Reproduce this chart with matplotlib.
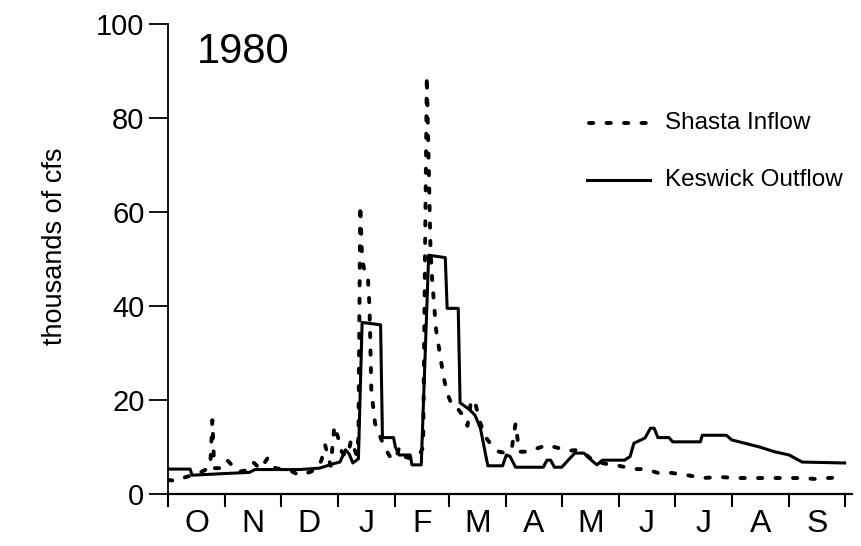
import numpy as np
import matplotlib.pyplot as plt

plt.rcParams['font.family'] = ['Liberation Sans', 'DejaVu Sans']

# water year 1980, days since Oct 1 1979
month_starts = [0, 31, 61, 92, 123, 152, 183, 213, 244, 274, 305, 336, 366]
month_labels = ['O', 'N', 'D', 'J', 'F', 'M', 'A', 'M', 'J', 'J', 'A', 'S']

# Shasta inflow (thousands of cfs)
inflow_day = [0, 4, 8, 13, 17, 22, 23, 24, 25, 29, 32, 38, 42, 46, 50, 54, 58, 66,
              71, 77, 81, 83, 85, 88, 90, 92, 94, 96, 98, 99, 102, 103, 104, 105,
              106, 108, 109, 110, 112, 114, 117, 120, 123, 125, 128, 132, 136, 138,
              140, 142, 143, 145, 147, 149, 151, 154, 157, 159, 162, 164, 166, 169,
              172, 175, 179, 183, 186, 188, 190, 195, 198, 205, 211, 217, 222, 225,
              231, 236, 240, 244, 252, 258, 265, 272, 281, 289, 299, 308, 316, 323,
              334, 342, 350, 357, 366]
inflow_val = [3.0, 2.8, 3.4, 4.0, 4.5, 5.5, 7.0, 15.7, 5.5, 5.5, 7.2, 4.7, 5.0, 6.8,
              5.3, 7.7, 5.5, 5.0, 4.0, 4.7, 5.5, 7.2, 10.4, 6.0, 14.5, 12.0, 9.0, 8.0,
              9.5, 11.5, 8.3, 12.0, 61.5, 50.0, 48.0, 47.0, 40.0, 22.0, 15.0, 13.0,
              10.0, 8.0, 7.3, 9.8, 7.9, 7.5, 8.3, 10.0, 89.0, 52.0, 45.0, 35.0, 30.0,
              25.0, 21.5, 18.5, 18.0, 17.0, 14.5, 20.0, 19.6, 15.0, 12.0, 10.4, 9.0,
              8.7, 9.8, 15.0, 9.0, 9.0, 9.5, 10.4, 9.8, 9.2, 9.4, 8.7, 6.8, 6.5, 6.2,
              6.0, 5.3, 5.3, 4.5, 4.5, 4.0, 3.4, 3.6, 3.4, 3.4, 3.4, 3.4, 3.4, 3.2,
              3.4, 3.6]

# Keswick outflow (thousands of cfs)
outflow_day = [0, 12, 13, 28, 44, 47, 71, 82, 90, 93, 96, 98, 100, 103, 105, 115,
               116, 122, 123, 125, 131, 132, 137, 141, 150, 151, 157, 158, 163, 166,
               169, 173, 181, 183, 185, 188, 203, 205, 207, 209, 213, 220, 225, 229,
               232, 235, 247, 250, 252, 258, 261, 263, 265, 271, 273, 288, 289, 302,
               305, 312, 320, 328, 336, 343, 366]
outflow_val = [5.3, 5.3, 4.0, 4.3, 4.6, 5.2, 5.2, 5.5, 6.5, 6.8, 9.4, 8.5, 6.6, 7.5,
               36.5, 36.0, 12.0, 12.0, 10.0, 8.3, 8.3, 6.2, 6.2, 50.8, 50.3, 39.5,
               39.5, 19.4, 18.0, 16.8, 14.0, 6.0, 6.0, 8.3, 8.0, 5.7, 5.7, 7.2, 7.2,
               5.7, 5.7, 8.7, 8.7, 7.2, 6.2, 7.2, 7.2, 8.0, 10.8, 11.9, 14.0, 14.0,
               12.0, 12.0, 11.1, 11.1, 12.5, 12.5, 11.5, 10.8, 10.0, 9.0, 8.3, 6.8,
               6.6]

fig = plt.figure(figsize=(8.61, 5.46), dpi=100)
ax = fig.add_axes([168/861, 1 - 494/546, 684/861, 470/546])

dotted = (0, (1.1, 3.4))
ax.plot(inflow_day, inflow_val, color='black', lw=2.8, linestyle=dotted,
        dash_capstyle='round')
ax.plot(outflow_day, outflow_val, color='black', lw=2.2)

ax.set_xlim(0, 370)
ax.set_ylim(0, 100)
for s in ['top', 'right']:
    ax.spines[s].set_visible(False)
ax.spines['left'].set_linewidth(1.3)
ax.spines['bottom'].set_linewidth(1.6)

ax.set_yticks(np.arange(0, 101, 20))
ax.tick_params(axis='y', length=14, width=1.3, labelsize=21, pad=3)
ax.set_xticks(month_starts)
ax.set_xticklabels([])
ax.tick_params(axis='x', which='major', length=9, width=1.5)
mids = [(a + b) / 2 for a, b in zip(month_starts[:-1], month_starts[1:])]
ax.set_xticks(mids, minor=True)
ax.set_xticklabels(month_labels, minor=True)
ax.tick_params(axis='x', which='minor', length=0, labelsize=23, pad=11)

ax.set_ylabel('thousands of cfs', fontsize=19.5)
ax.yaxis.set_label_coords(-0.146, 0.528)

ax.text(0.042, 0.94, '1980', transform=ax.transAxes, fontsize=30,
        va='center', ha='left')

# legend
ax.plot([0.615, 0.705], [0.79, 0.79], transform=ax.transAxes, color='black',
        lw=2.8, linestyle=dotted, dash_capstyle='round')
ax.text(0.727, 0.79, 'Shasta Inflow', transform=ax.transAxes, fontsize=17.5,
        va='center', ha='left')
ax.plot([0.612, 0.705], [0.668, 0.668], transform=ax.transAxes, color='black',
        lw=2.2)
ax.text(0.727, 0.668, 'Keswick Outflow', transform=ax.transAxes, fontsize=17.5,
        va='center', ha='left')

plt.savefig('out.png', dpi=100)
